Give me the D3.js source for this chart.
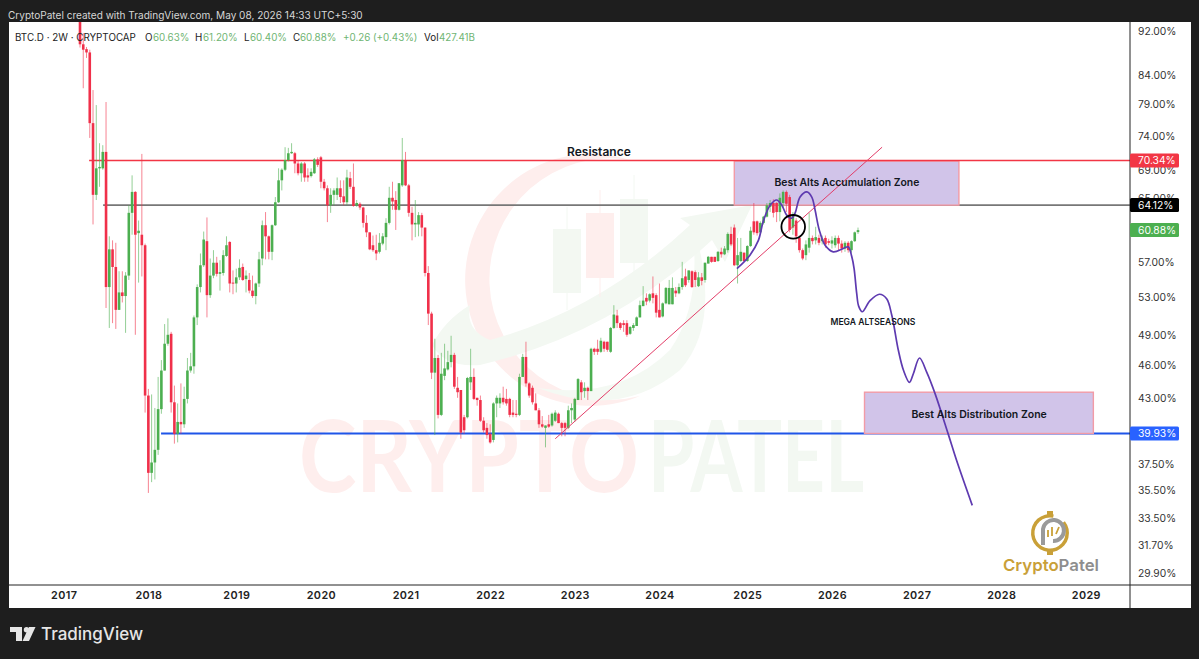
<!DOCTYPE html>
<html>
<head>
<meta charset="utf-8">
<title>BTC.D 2W</title>
<script src="https://cdn.jsdelivr.net/npm/d3@7"></script>
<style>
  html, body { margin: 0; padding: 0; background: #1e1e1e; overflow: hidden; }
  svg { display: block; font-family: Inter, "Noto Sans", sans-serif; }
</style>
</head>
<body>
<svg id="chart" width="1199" height="659"></svg>
<script>
// 2W candles, BTC dominance in percent
const opens = [
  94.5,89.5,88.6,88.0,76.0,65.5,69.2,69.2,71.6,54.1,
  58.5,56.4,51.6,53.5,53.1,55.4,63.1,65.9,60.5,60.3,
  59.0,43.2,36.8,37.6,38.6,42.0,45.5,48.1,49.1,42.6,
  39.9,40.9,40.7,42.9,45.5,45.9,50.8,54.1,56.6,59.5,
  53.2,55.4,56.9,55.6,55.7,57.7,59.4,54.6,54.5,55.2,
  56.4,55.0,54.9,53.7,53.1,54.5,57.4,61.5,60.1,58.2,
  61.5,64.5,67.5,69.0,70.4,71.4,71.4,69.9,68.5,69.9,
  68.2,68.1,68.5,70.5,70.8,67.3,66.4,64.1,65.5,65.5,
  66.4,65.3,64.5,67.8,66.6,64.1,64.3,63.8,61.8,60.6,
  59.0,58.4,58.2,59.2,60.0,61.8,65.1,64.8,63.5,66.8,
  70.4,66.8,63.1,61.6,61.6,62.8,61.2,55.7,51.2,45.3,
  46.7,41.5,45.0,45.6,46.3,47.0,43.9,43.7,41.3,41.3,
  44.4,44.9,43.0,42.8,41.0,40.4,39.9,39.4,42.5,42.5,
  43.0,42.9,42.9,41.7,41.6,41.5,44.9,46.8,44.3,43.9,
  42.5,41.9,40.7,40.4,40.7,40.6,41.0,41.6,40.8,40.8,
  40.4,41.9,41.1,42.8,44.4,43.6,43.9,43.6,47.6,47.6,
  47.3,48.3,48.3,47.3,49.7,51.0,50.2,50.2,50.2,49.1,
  49.7,49.9,50.8,52.0,52.9,52.6,53.4,53.2,51.6,50.9,
  52.3,52.2,52.2,53.7,53.4,54.1,55.3,54.9,55.9,55.8,
  54.2,55.2,54.9,56.8,57.6,57.6,57.1,58.2,57.9,58.4,
  60.4,61.2,56.6,57.1,58.1,57.1,58.9,62.0,62.0,60.6,
  61.8,62.6,63.9,64.4,64.4,63.2,64.4,65.9,65.2,61.2,
  62.1,59.9,58.4,57.8,58.7,59.9,59.6,59.9,59.5,59.9,
  59.5,59.2,59.0,59.9,59.2,58.6,59.3,58.4,59.5,60.63
];
const highs = [
  95.1,91.6,89.0,88.5,81.4,78.9,72.9,72.6,79.4,60.1,
  59.6,59.3,55.9,55.9,55.8,64.1,68.2,66.0,62.1,71.3,
  59.2,43.8,43.3,42.1,44.9,46.5,50.1,50.7,49.3,44.1,
  42.5,44.3,44.0,46.7,47.2,51.0,54.4,58.0,60.7,62.5,
  57.4,58.4,57.6,57.2,58.4,60.1,59.5,56.0,56.2,57.3,
  56.8,56.0,55.7,55.4,54.6,58.2,62.1,63.2,60.2,61.6,
  65.2,69.2,69.2,72.3,72.2,72.9,71.6,70.4,70.1,70.1,
  69.2,69.2,70.7,70.8,71.0,67.7,66.8,66.4,66.4,67.9,
  67.5,67.5,69.0,68.7,69.9,64.8,64.5,63.9,62.8,60.6,
  60.2,60.3,60.5,60.5,62.4,66.6,67.3,66.0,67.1,73.7,
  71.6,67.0,63.9,64.8,63.2,63.1,61.2,56.5,51.4,48.6,
  47.0,47.2,48.1,47.4,48.9,47.2,44.9,43.7,41.5,44.9,
  47.6,45.7,43.0,43.2,41.3,40.8,40.7,42.6,43.2,43.4,
  44.0,43.8,43.0,42.8,42.8,45.2,47.1,48.3,44.4,44.1,
  43.4,42.1,41.4,40.6,41.5,41.7,41.9,41.7,40.9,40.9,
  42.3,42.5,43.0,44.8,44.6,44.4,44.0,47.7,47.7,48.5,
  48.7,48.4,48.3,49.8,52.1,51.6,50.3,50.5,50.5,49.9,
  50.2,50.9,52.6,54.2,53.4,53.4,55.3,53.4,54.5,52.4,
  54.1,54.9,55.2,54.1,54.5,57.0,56.2,56.0,56.0,56.0,
  55.8,55.7,56.9,57.7,57.6,57.6,58.3,58.7,58.9,60.6,
  61.3,61.6,59.9,59.9,58.1,59.0,61.3,64.4,62.1,62.0,
  62.7,64.4,64.8,64.9,64.5,65.7,66.1,66.1,65.5,63.2,
  62.4,60.2,58.6,59.6,63.1,60.2,61.3,60.3,60.2,60.2,
  59.8,60.1,60.2,60.2,59.6,59.5,59.5,59.6,60.7,61.20
];
const lows = [
  88.9,81.7,87.0,73.7,61.6,64.8,66.6,69.0,51.8,49.7,
  50.2,49.6,51.6,52.4,49.2,54.9,60.3,49.0,54.6,55.3,
  41.7,35.3,36.1,36.3,38.2,41.6,45.5,47.9,41.7,39.1,
  39.2,39.9,40.4,42.5,45.3,45.2,50.0,53.5,56.4,50.8,
  52.9,55.1,55.3,53.7,55.4,57.6,53.5,53.3,53.5,54.9,
  54.8,53.5,53.4,52.9,52.2,54.1,56.6,57.3,57.3,57.2,
  61.4,64.4,66.1,68.8,70.2,71.3,68.5,68.2,67.3,67.3,
  67.3,67.9,68.4,69.4,66.4,66.1,61.9,63.1,64.1,64.8,
  64.4,64.1,64.1,66.3,63.9,63.9,63.5,61.2,60.0,58.4,
  58.2,57.2,58.0,59.0,58.4,61.6,63.5,60.9,63.4,66.6,
  66.7,62.6,59.6,60.0,60.1,60.1,55.3,50.0,44.7,39.8,
  41.2,41.4,44.6,45.5,45.8,43.8,43.0,39.5,39.9,41.2,
  43.7,42.8,42.3,40.9,40.0,39.5,39.1,39.2,41.3,42.1,
  42.4,42.3,41.3,41.3,41.3,41.4,44.9,44.0,43.0,42.4,
  41.9,40.4,40.4,38.8,40.4,40.5,40.9,40.8,39.7,39.7,
  40.3,40.8,40.9,42.8,42.8,43.0,42.8,43.6,47.0,47.0,
  47.2,47.3,47.3,47.2,49.6,49.7,49.5,49.3,48.8,49.0,
  49.4,49.9,50.8,52.0,52.1,52.4,52.3,50.8,50.8,50.8,
  52.2,52.2,52.2,53.0,53.3,53.8,54.1,54.6,54.0,54.1,
  54.1,54.3,54.6,56.8,56.9,57.0,57.0,57.5,57.8,58.1,
  58.9,56.5,54.5,57.0,57.0,57.0,58.8,60.3,60.2,60.3,
  61.6,62.5,63.2,62.5,61.9,62.0,63.8,63.2,60.6,60.3,
  59.3,58.1,57.2,57.2,58.1,59.1,59.1,59.0,59.1,58.7,
  59.0,58.6,58.7,58.4,58.1,58.2,58.1,58.1,59.4,60.40
];
const closes = [
  89.5,88.5,88.0,76.0,65.5,69.2,69.4,71.6,54.1,58.5,
  56.4,51.6,53.5,53.1,55.4,63.1,65.9,60.3,60.8,59.0,
  43.2,36.8,37.6,38.6,42.0,45.5,48.1,49.0,42.6,39.9,
  40.9,40.7,42.9,45.5,45.9,50.8,54.1,56.6,59.7,53.2,
  55.4,56.9,55.6,55.8,57.8,59.0,54.5,54.5,55.2,56.3,
  54.9,55.4,53.7,53.1,54.5,57.3,61.5,60.1,58.2,61.5,
  64.5,67.5,69.0,70.4,71.4,71.6,69.9,68.5,69.9,67.9,
  67.9,68.7,70.5,69.7,67.3,66.4,64.1,65.5,66.1,66.4,
  65.2,64.5,67.9,66.6,64.0,64.4,63.8,61.8,60.6,58.5,
  58.4,58.0,59.3,60.1,61.8,65.1,64.6,63.5,67.1,70.4,
  66.8,63.1,61.6,61.8,62.8,61.2,55.7,51.2,45.3,46.7,
  41.5,45.2,45.7,46.3,47.0,44.0,43.5,40.0,40.2,44.8,
  44.9,42.9,42.8,41.0,40.2,39.8,39.2,42.5,43.0,43.0,
  42.6,42.5,41.5,41.5,41.5,44.9,46.8,44.3,43.2,42.6,
  41.9,40.7,40.5,40.6,40.5,41.6,41.7,40.8,40.4,40.4,
  41.9,42.1,42.9,44.7,43.5,43.9,43.6,47.6,47.3,47.3,
  48.4,47.6,47.5,49.7,51.1,50.2,49.7,50.0,49.0,49.8,
  50.0,50.8,52.1,52.6,52.5,53.3,52.9,51.3,50.8,52.3,
  54.0,54.0,54.0,53.4,54.1,55.1,54.3,56.0,54.1,54.9,
  55.2,54.8,56.9,57.6,57.0,57.0,58.2,57.9,58.6,60.4,
  59.1,56.6,57.8,58.2,57.1,58.9,60.8,60.6,60.5,61.8,
  62.6,64.1,64.4,63.1,63.2,65.1,65.9,64.3,60.9,62.8,
  60.1,58.4,57.4,59.1,59.9,59.5,60.0,59.3,59.8,59.1,
  59.3,59.6,59.9,59.2,58.6,59.3,58.4,59.5,60.6,60.88
];

// axis labels. x is measured in bars, the year ticks fall on these bar numbers
const yearLabels = [2017,2018,2019,2020,2021,2022,2023,2024,2025,2026,2027,2028,2029];
const yearBars = [-5,21,48,74,100,126,152,178,205,231,257,283,309];
const priceTicks = [92,84,79,74,69,65,57,53,49,46,43,37.5,35.5,33.5,31.7,29.9];

// horizontal levels [value, first bar]
const resistanceLevel = [70.34, 2.8];
const midLevel = [64.12, 7.1];
const supportLevel = [39.93, 24.9];
const lastClose = 60.88;

// zones [bar0, bar1, top value, bottom value]
const accumulationZone = [201, 270, 70.25, 64.12];
const distributionZone = [241, 311.3, 43.5, 39.93];

// rising trend line, [bar, value]
const trendLine = [[146, 39.5], [246.4, 72.3]];

// circled candles [bar, value]
const breakPoint = [219.1, 61.3];

// projected path, [bar, value]
const projection = [
  [201.8,56.2],[205.8,57.8],[208.4,59.6],[209.9,62.0],[212,64.1],[214,64.8],[215.6,64.1],
  [217.1,62.8],[218.6,62.4],[219.7,63.1],[221.2,65.2],[223.3,65.9],[224.8,65.2],[225.8,63.5],
  [227.1,60.9],[228.9,59.0],[231.4,58.2],[234.5,58.6],[236,58.8],[237.1,57.6],[237.8,56.2],
  [238.6,53.4],[239.2,52.0],[240.3,51.4],[242.7,52.6],[245.6,53.3],[247.8,52.8],[249.4,51.0],
  [251.4,47.45],[253,45.5],[254.8,44.4],[256,45.2],[257.9,46.7],[260.1,45.35],[262.7,43.35],
  [266.7,39.9],[269.3,37.75],[274.1,34.4]
];

const svg = d3.select("#chart");

const panel = { left: 9, right: 1191, top: 22, bottom: 608, axisX: 1130, axisY: 585 };

const x = d3.scaleLinear().domain([0, 239]).range([80, 858]);
const y = d3.scaleLog().domain([92, 29.9]).range([31, 573]);

const GREEN = "#4caf50";
const RED = "#f0304a";

// header
svg.append("text")
  .attr("x", 8).attr("y", 18.5)
  .attr("fill", "#d6d6d6")
  .style("font-size", "10.05px")
  .text("CryptoPatel created with TradingView.com, May 08, 2026 14:33 UTC+5:30");

// white panel
svg.append("rect")
  .attr("x", panel.left).attr("y", panel.top)
  .attr("width", panel.right - panel.left)
  .attr("height", panel.bottom - panel.top)
  .attr("fill", "#fff");

svg.append("clipPath").attr("id", "plot-clip")
  .append("rect")
  .attr("x", panel.left).attr("y", panel.top)
  .attr("width", panel.axisX - panel.left)
  .attr("height", panel.axisY - panel.top);

// faint CryptoPatel watermark behind the candles
const wm = svg.append("g").attr("clip-path", "url(#plot-clip)");
wm.append("path")
  .attr("d", "M630 160 A126 126 0 1 0 640 396 A120.7 120.7 0 1 1 630 160 Z")
  .attr("fill", "#feeeed");
wm.append("path")
  .attr("d", "M538 388 Q620 420 680 370 Q725 320 690 215 Q705 300 670 350 Q620 400 538 388 Z")
  .attr("fill", "#f4f9f3");
wm.append("path")
  .attr("d", "M432 345 Q445 320 470 305 Q465 330 490 340 Q600 310 690 225 L680 218 L752 205 L725 262 L712 240 Q610 335 480 365 Q445 368 432 345 Z")
  .attr("fill", "#f3f8f2");
[[553, 229, 64, 207, 310, "#f3f8f2"], [586, 213, 65, 190, 297, "#feeeed"], [620, 199, 64, 175, 272, "#f3f8f2"]]
  .forEach(([bx, by, bh, wt, wb, col]) => {
    wm.append("line").attr("x1", bx + 14).attr("x2", bx + 14).attr("y1", wt).attr("y2", wb)
      .attr("stroke", col).attr("stroke-width", 1);
    wm.append("rect").attr("x", bx).attr("y", by).attr("width", 28).attr("height", bh).attr("fill", col);
  });
wm.append("text")
  .attr("x", 299).attr("y", 492)
  .attr("textLength", 340).attr("lengthAdjust", "spacingAndGlyphs")
  .attr("fill", "#feeeed")
  .style("font", "700 100px Lato")
  .text("CRYPTO");
wm.append("text")
  .attr("x", 648).attr("y", 492)
  .attr("textLength", 216).attr("lengthAdjust", "spacingAndGlyphs")
  .attr("fill", "#f3f8f2")
  .style("font", "700 100px Lato")
  .text("PATEL");

const plot = svg.append("g").attr("clip-path", "url(#plot-clip)");

// level lines
const levelLine = (level, color, width) => plot.append("line")
  .attr("x1", x(level[1])).attr("x2", panel.axisX)
  .attr("y1", y(level[0])).attr("y2", y(level[0]))
  .attr("stroke", color).attr("stroke-width", width);

levelLine(midLevel, "#777", 1.6);
levelLine(supportLevel, "#1f55e8", 1.8);

// zones sit over the lines, candles over the zones
[accumulationZone, distributionZone].forEach(z => {
  plot.append("rect")
    .attr("x", x(z[0])).attr("y", y(z[2]))
    .attr("width", x(z[1]) - x(z[0]))
    .attr("height", y(z[3]) - y(z[2]))
    .attr("fill", "#d1c4e9")
    .attr("stroke", "#f29ba6")
    .attr("stroke-width", 1.4);
});
levelLine(resistanceLevel, "#f23645", 1.6);

// candles
const bars = d3.range(closes.length);
const candle = plot.append("g").selectAll("g")
  .data(bars)
  .enter().append("g")
  .attr("fill", i => closes[i] >= opens[i] ? GREEN : RED)
  .attr("stroke", i => closes[i] >= opens[i] ? GREEN : RED);

candle.append("line")
  .attr("x1", i => x(i)).attr("x2", i => x(i))
  .attr("y1", i => y(highs[i])).attr("y2", i => y(lows[i]))
  .attr("stroke-width", 1)
  .attr("stroke-opacity", 0.6);

candle.append("rect")
  .attr("x", i => x(i) - 1.3)
  .attr("width", 2.6)
  .attr("y", i => y(Math.max(opens[i], closes[i])))
  .attr("height", i => Math.max(1, Math.abs(y(opens[i]) - y(closes[i]))))
  .attr("stroke", "none");

// trend line
plot.append("line")
  .attr("x1", x(trendLine[0][0])).attr("y1", y(trendLine[0][1]))
  .attr("x2", x(trendLine[1][0])).attr("y2", y(trendLine[1][1]))
  .attr("stroke", "#e23d68")
  .attr("stroke-width", 1);

// projected path
const projectionLine = d3.line()
  .x(d => x(d[0])).y(d => y(d[1]))
  .curve(d3.curveCatmullRom.alpha(0.5));

plot.append("path")
  .datum(projection)
  .attr("d", projectionLine)
  .attr("fill", "none")
  .attr("stroke", "#5e3ab0")
  .attr("stroke-width", 1.7);

plot.append("circle")
  .attr("cx", x(breakPoint[0])).attr("cy", y(breakPoint[1]))
  .attr("r", 11.8)
  .attr("fill", "none")
  .attr("stroke", "#000")
  .attr("stroke-width", 1.8);

// annotations
const note = (bar, value, size, label) => svg.append("text")
  .attr("x", x(bar)).attr("y", y(value))
  .attr("dy", "0.35em")
  .attr("text-anchor", "middle")
  .attr("fill", "#131722")
  .style("font-size", size + "px")
  .style("font-weight", 600)
  .text(label);

note(159.4, 71.6, 12, "Resistance");
note(235.6, 67.2, 10.4, "Best Alts Accumulation Zone");
note(276.2, 41.55, 10.5, "Best Alts Distribution Zone");
note(243.6, 50.3, 8.6, "MEGA ALTSEASONS");

// symbol line
const legend = svg.append("text").attr("y", 41).style("font-size", "9.8px");
const legendParts = [
  [15, "BTC.D \u00b7 2W \u00b7 CRYPTOCAP", "#222"], [145, "O", "#222"], [153, "60.63%", "#6fb573"],
  [195, "H", "#222"], [203, "61.20%", "#6fb573"], [244, "L", "#222"], [250, "60.40%", "#6fb573"],
  [293, "C", "#222"], [300, "60.88%", "#6fb573"], [343, "+0.26 (+0.43%)", "#6fb573"],
  [424, "Vol", "#222"], [439, "427.41B", "#6fb573"]
];
legendParts.forEach(p => {
  legend.append("tspan").attr("x", p[0]).attr("fill", p[2]).text(p[1]);
});

// logo, bottom right
const logo = svg.append("g").attr("transform", "translate(1050,533)");
const goldArc = d3.arc().innerRadius(15.5).outerRadius(19);
logo.append("path")
  .attr("d", goldArc({ startAngle: 0.9, endAngle: Math.PI * 2 + 0.2 }))
  .attr("fill", "#c9a038");
logo.append("rect").attr("x", -3).attr("y", -22).attr("width", 6).attr("height", 4).attr("fill", "#c9a038");
logo.append("rect").attr("x", -3).attr("y", 18).attr("width", 6).attr("height", 4).attr("fill", "#c9a038");
logo.append("path")
  .attr("d", "M-7 12 V-4 A10.5 10.5 0 1 1 3 8")
  .attr("fill", "none").attr("stroke", "#9a9a9a").attr("stroke-width", 4);
logo.append("path")
  .attr("d", "M-2 4 V-3 M2 3 V-6 M6 1 L9 -6")
  .attr("stroke", "#c9a038").attr("stroke-width", 1.8).attr("fill", "none");

svg.append("text")
  .attr("x", 1003).attr("y", 571)
  .attr("textLength", 96).attr("lengthAdjust", "spacingAndGlyphs")
  .style("font-size", "16.5px").style("font-weight", 600)
  .call(t => t.append("tspan").attr("fill", "#c9a038").text("Crypto"))
  .call(t => t.append("tspan").attr("fill", "#8e8e8e").text("Patel"));

// axes
const xAxis = d3.axisBottom(x)
  .tickValues(yearBars)
  .tickFormat((d, i) => yearLabels[i])
  .tickSize(0)
  .tickPadding(6);

const xAxisG = svg.append("g")
  .attr("transform", `translate(0,${panel.axisY})`)
  .call(xAxis);
xAxisG.select(".domain").remove();
xAxisG.selectAll("text")
  .attr("fill", "#222")
  .style("font-family", "Inter")
  .style("font-size", "10.8px")
  .style("font-weight", 600)
  .style("letter-spacing", "0.4px");

const yAxis = d3.axisRight(y)
  .tickValues(priceTicks)
  .tickFormat(d => d.toFixed(2) + "%")
  .tickSize(0)
  .tickPadding(8);

const yAxisG = svg.append("g")
  .attr("transform", `translate(${panel.axisX},0)`)
  .call(yAxis);
yAxisG.select(".domain").remove();
yAxisG.selectAll("text")
  .attr("fill", "#333")
  .style("font-family", "Inter")
  .style("font-size", "10.3px");

svg.append("line")
  .attr("x1", panel.left).attr("x2", panel.right)
  .attr("y1", panel.axisY).attr("y2", panel.axisY)
  .attr("stroke", "#222").attr("stroke-width", 1);
svg.append("line")
  .attr("x1", panel.axisX).attr("x2", panel.axisX)
  .attr("y1", panel.top).attr("y2", panel.bottom)
  .attr("stroke", "#222").attr("stroke-width", 1);

// price tags on the axis
const tag = (value, color) => {
  const g = svg.append("g").attr("transform", `translate(${panel.axisX},${y(value)})`);
  g.append("rect")
    .attr("y", -7).attr("width", 49).attr("height", 14).attr("rx", 1.5)
    .attr("fill", color);
  g.append("text")
    .attr("x", 8).attr("dy", "0.35em")
    .attr("fill", "#fff")
    .style("font-size", "10.3px")
    .text(value.toFixed(2) + "%");
};
tag(resistanceLevel[0], "#f23645");
tag(midLevel[0], "#000");
tag(lastClose, GREEN);
tag(supportLevel[0], "#2962ff");

// TradingView mark
const tv = svg.append("g").attr("fill", "#e6e6e6");
tv.append("path").attr("d", "M10 627 H22 V641 H16 V632 H10 Z");
tv.append("circle").attr("cx", 26.5).attr("cy", 629.7).attr("r", 2.7);
tv.append("path").attr("d", "M29 627 H35.5 L29 641 H22.5 Z");
tv.append("text")
  .attr("x", 41).attr("y", 639.5)
  .style("font-size", "17px")
  .style("font-weight", 500)
  .text("TradingView");
</script>
</body>
</html>
